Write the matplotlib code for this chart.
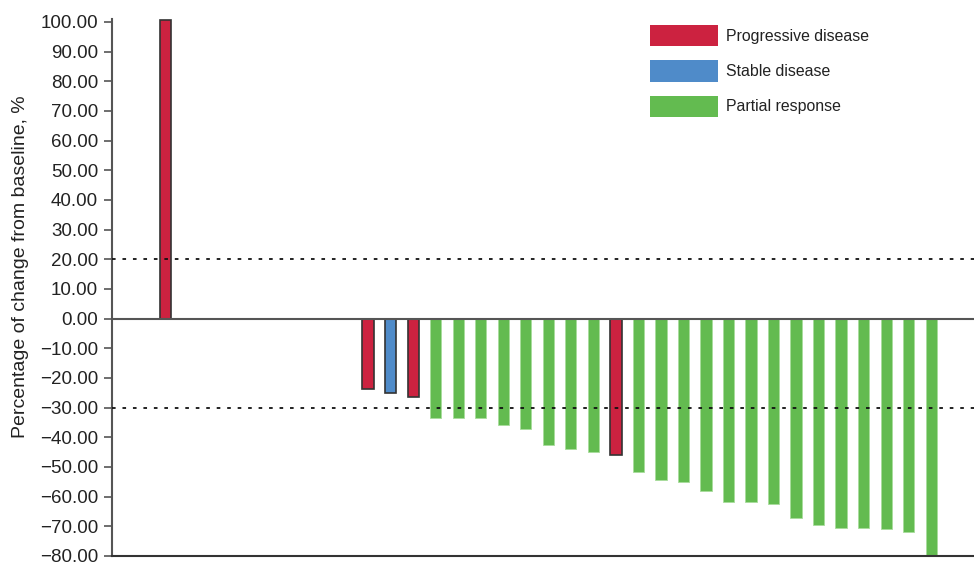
import numpy as np
import matplotlib
matplotlib.use("Agg")
import matplotlib.pyplot as plt
from matplotlib.patches import Patch

plt.rcParams['font.family'] = ['Liberation Sans', 'DejaVu Sans']

# per-patient best change from baseline (%), nan = empty slot
changes = [100.5, np.nan, np.nan, np.nan, np.nan, np.nan, np.nan, np.nan, np.nan,
           -23.7, -25.1, -26.3,
           -33.4, -33.4, -33.4, -35.9, -37.3, -42.5, -43.8, -44.8,
           -46.0,
           -51.7, -54.5, -54.9, -58.0, -61.8, -61.8, -62.6, -67.1, -69.7,
           -70.4, -70.4, -70.8, -71.8, -80.0]
responses = ["PD", "", "", "", "", "", "", "", "",
             "PD", "SD", "PD",
             "PR", "PR", "PR", "PR", "PR", "PR", "PR", "PR",
             "PD",
             "PR", "PR", "PR", "PR", "PR", "PR", "PR", "PR", "PR",
             "PR", "PR", "PR", "PR", "PR"]
labels = {"PD": "Progressive disease", "SD": "Stable disease", "PR": "Partial response"}
colors = {"PD": "#cc2240", "SD": "#4f8bc9", "PR": "#63bb50", "": "none"}
yticks = np.arange(-80, 101, 10)
thresholds = [20, -30]

fig = plt.figure(figsize=(9.74, 5.64), dpi=100)
ax = fig.add_axes([0.115, 0.0142, 0.885, 0.9521])

x = np.arange(len(changes))
for xi, v, r in zip(x, changes, responses):
    if np.isnan(v):
        continue
    if r == "PR":
        ax.bar(xi, v, width=0.5, color=colors[r], edgecolor="#a8dc9c", linewidth=0.6, zorder=2)
    else:
        ax.bar(xi, v, width=0.5, color=colors[r], edgecolor="#333333", linewidth=1.2, zorder=2)

for t in thresholds:
    ax.axhline(t, color="#111111", linewidth=1.3, dashes=(2.0, 3.8), zorder=3)
ax.axhline(0, color="#555555", linewidth=1.5, zorder=4)

ax.set_xlim(-2.37, 35.9)
ax.set_ylim(-80, 101)
ax.set_yticks(yticks)
ax.set_yticklabels([f"{v:.2f}".replace("-", "\u2212") for v in yticks], fontsize=13.5, color="#222222")
ax.set_xticks([])
ax.tick_params(axis="y", direction="out", length=6, width=1.2, color="#555555", pad=4)
for s in ["top", "right"]:
    ax.spines[s].set_visible(False)
ax.spines["left"].set_color("#555555")
ax.spines["left"].set_linewidth(1.5)
ax.spines["bottom"].set_color("#333333")
ax.spines["bottom"].set_linewidth(1.5)
ax.set_ylabel("Percentage of change from baseline, %", fontsize=14, color="#222222")
ax.yaxis.set_label_coords(0.0295, 0.528, transform=fig.transFigure)

handles = [Patch(facecolor=colors[k], edgecolor="none", label=labels[k]) for k in ["PD", "SD", "PR"]]
ax.legend(handles=handles, loc="upper left", bbox_to_anchor=(0.661, 0.967), bbox_transform=fig.transFigure,
          frameon=False, fontsize=11.4, handlelength=4.3, handleheight=1.7, borderaxespad=0,
          labelspacing=0.88, handletextpad=0.5, labelcolor="#222222")

fig.savefig("out.png", dpi=100)
